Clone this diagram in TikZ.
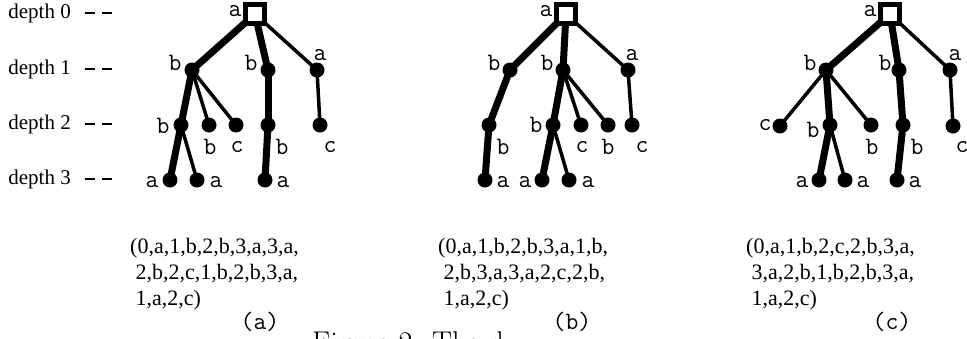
\documentclass[tikz,border=0pt]{standalone}
\usepackage{fontspec}
\newfontfamily\timesfont{Liberation Serif}
\usetikzlibrary{positioning}
\usetikzlibrary{backgrounds}

\tikzset{
	leaf/.style={circle, fill=black, inner sep=0pt, minimum size=15pt},
	rootbox/.style={draw, fill=white, line width=5pt, inner sep=0pt, minimum size=19.5pt},
	heavy/.style={line width=7pt},
	light/.style={line width=3.5pt},
	lab/.style={font=\ttfamily\fontsize{25}{25}\selectfont, inner sep=0pt},
	seq/.style={font=\timesfont\fontsize{22}{26}\selectfont, align=left, inner sep=0pt, anchor=north west},
	deplab/.style={font=\timesfont\fontsize{21}{24}\selectfont, inner sep=0pt, anchor=east},
	dashmark/.style={line width=2pt, dash pattern=on 10pt off 7pt},
}

\begin{document}
\begin{tikzpicture}[x=1pt,y=-1pt]
		\useasboundingbox (0,0) rectangle (967,338);
		\foreach \d/\y in {0/14,1/70,2/125,3/180}
		{
			\node[deplab] (dep\d) at (71,\y-1) {depth \d};
			\draw[dashmark] ([xshift=14pt]dep\d.east) -- ++(27,0);
		}
		\foreach \n/\x in {a0/255,b0/566,c0/890}
		{
			\node[rootbox] (\n) at (\x,14) {};
			\node[lab] (\n t) at ([shift={(-20,-2.5)}]\n.center) {a};
		}
		\foreach \n/\x/\y/\dx/\dy/\t in {a1/192/70/-17/-7/b, a2/268/70/-17/-7/b, a3/317/70/3/-15/a,
			a4/181/125/-18/1/b, a5/209/125/1/22/b, a6/236/125/1/22/c, a7/268/125/14/22/b, a8/320/125/10/22/c,
			a9/170/180/-18/2/a, a10/197/180/19/2/a, a11/265/180/18/2/a,
			b1/510/70/-16/-7/b, b2/563/70/-16/-7/b, b3/628/70/4/-15/a,
			b4/489/125/14/22/b, b5/553/125/-17/0/b, b6/581/125/1/22/c, b7/608/125/0/22/b, b8/632/125/10/22/c,
			b9/485/180/18/2/a, b10/542/180/-17/2/a, b11/569/180/19/2/a,
			c1/826/70/-16/-7/b, c2/899/70/-14/-7/b, c3/950/70/5/-15/a,
			c4/780/126/-15/-1/c, c5/830/125/-17/5/b, c6/871/125/1/22/b, c7/903/125/14/22/b, c8/953/126/9/21/c,
			c9/819/180/-17/2/a, c10/845/180/18/2/a, c11/897/180/18/2/a}
		{
			\node[leaf] (\n) at (\x,\y) {};
			\node[lab] (\n t) at ([shift={(\dx,\dy)}]\n.center) {\t};
		}
		\begin{scope}[on background layer]
			\foreach \u/\v in {a0/a1,a0/a2,a1/a4,a2/a7,a4/a9,a7/a11,
				b0/b1,b0/b2,b1/b4,b4/b9,b2/b5,b5/b10,
				c0/c1,c0/c2,c1/c5,c5/c9,c2/c7,c7/c11}
				\draw[heavy] (\u.center) -- (\v.center);
			\foreach \u/\v in {a0/a3,a1/a5,a1/a6,a3/a8,a4/a10,
				b0/b3,b2/b6,b2/b7,b3/b8,b5/b11,
				c0/c3,c1/c4,c1/c6,c3/c8,c5/c10}
				\draw[light] (\u.center) -- (\v.center);
		\end{scope}
		\node[seq] (sa) at (130,238) {(0,a,1,b,2,b,3,a,3,a,\\\ 2,b,2,c,1,b,2,b,3,a,\\\ 1,a,2,c)};
		\node[seq] (sb) at (438,238) {(0,a,1,b,2,b,3,a,1,b,\\\ 2,b,3,a,3,a,2,c,2,b,\\\ 1,a,2,c)};
		\node[seq] (sc) at (746,238) {(0,a,1,b,2,c,2,b,3,a,\\\ 3,a,2,b,1,b,2,b,3,a,\\\ 1,a,2,c)};
		\node[lab] (capa) at (260,322) {(a)};
		\node[lab] (capb) at (572,322) {(b)};
		\node[lab] (capc) at (892,322) {(c)};
		\node[anchor=base west, inner sep=0pt, font=\fontsize{30}{36}\selectfont] (fig) at (312,352) {Figure 2: The d};
\end{tikzpicture}
\end{document}
